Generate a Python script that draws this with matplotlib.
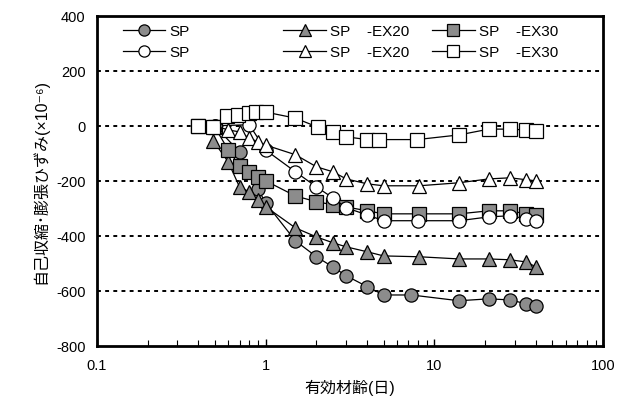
import numpy as np
import matplotlib
matplotlib.use("Agg")
from matplotlib import pyplot as plt
from matplotlib.ticker import LogLocator, NullFormatter, FixedLocator

plt.rcParams['font.family'] = ['Liberation Sans', 'Noto Sans CJK JP', 'DejaVu Sans']

# effective age (days) and strain (x10^-6)
sp_fill_x = [0.5, 0.7, 0.9, 1.0, 1.5, 2, 2.5, 3, 4, 5, 7.3, 14, 21, 28, 35, 40]
sp_fill_y = [0, -95, -230, -280, -418, -476, -513, -545, -585, -615, -615, -636, -629, -633, -647, -655]

sp_open_x = [0.5, 0.8, 1.0, 1.5, 2, 2.5, 3, 4, 5, 8, 14, 21, 28, 35, 40]
sp_open_y = [0, 4, -88, -167, -222, -262, -298, -324, -345, -345, -345, -331, -327, -338, -345]

ex20_fill_x = [0.49, 0.6, 0.7, 0.8, 0.9, 1.0, 1.5, 2, 2.5, 3, 4, 5, 8.1, 14, 21, 28, 35, 40]
ex20_fill_y = [-55, -131, -222, -240, -269, -294, -371, -404, -425, -440, -458, -473, -476, -484, -484, -487, -495, -513]

ex20_open_x = [0.5, 0.6, 0.7, 0.8, 0.9, 1.0, 1.5, 2, 2.5, 3, 4, 5, 8.1, 14, 21, 28, 35, 40]
ex20_open_y = [0, -15, -22, -45, -58, -70, -105, -149, -167, -193, -211, -218, -218, -207, -193, -189, -196, -200]

ex30_fill_x = [0.4, 0.5, 0.6, 0.7, 0.8, 0.9, 1.0, 1.5, 2, 2.5, 3, 4, 5, 8.1, 14, 21, 28, 35, 40]
ex30_fill_y = [0, -5, -87, -145, -167, -185, -200, -255, -276, -287, -295, -309, -320, -320, -320, -309, -309, -320, -324]

ex30_open_x = [0.4, 0.49, 0.59, 0.685, 0.8, 0.88, 1.0, 1.5, 2.04, 2.5, 3, 4, 4.7, 7.9, 14, 21, 28, 35, 40]
ex30_open_y = [0, -5, 36, 40, 45, 50, 50, 28, -5, -22, -40, -50, -50, -50, -33, -12, -12, -15, -20]

labels = ['SP', 'SP', 'SP    -EX20', 'SP    -EX20', 'SP    -EX30', 'SP    -EX30']
ytick_vals = [400, 200, 0, -200, -400, -600, -800]
grid_vals = [200, 0, -200, -400, -600]

gray = '#8c8c8c'
fig = plt.figure(figsize=(6.33, 4.10), dpi=100)
ax = fig.add_axes([0.153, 0.154, 0.80, 0.805])

for g in grid_vals:
    ax.axhline(g, color='black', lw=1.4, ls=(0, (2, 2.2)), zorder=1)

style = dict(color='black', lw=0.9, ms=9.5, mec='black', mew=0.9, zorder=3)
h1, = ax.plot(sp_fill_x, sp_fill_y, marker='o', mfc=gray, **style)
h3, = ax.plot(ex20_fill_x, ex20_fill_y, marker='^', mfc=gray, **style)
h5, = ax.plot(ex30_fill_x, ex30_fill_y, marker='s', mfc=gray, **style)
h2, = ax.plot(sp_open_x, sp_open_y, marker='o', mfc='white', **style)
h4, = ax.plot(ex20_open_x, ex20_open_y, marker='^', mfc='white', **style)
h6, = ax.plot(ex30_open_x, ex30_open_y, marker='s', mfc='white', **style)

ax.set_xscale('log')
ax.set_xlim(0.1, 100)
ax.set_ylim(-800, 400)
ax.xaxis.set_major_locator(FixedLocator([0.1, 1, 10, 100]))
ax.set_xticklabels(['0.1', '1', '10', '100'])
ax.xaxis.set_minor_locator(LogLocator(base=10, subs=np.arange(2, 10)))
ax.xaxis.set_minor_formatter(NullFormatter())
ax.tick_params(axis='x', which='both', direction='in', top=False, labelsize=10.5, pad=9)
ax.tick_params(axis='x', which='major', length=5, width=1)
ax.tick_params(axis='x', which='minor', length=4, width=0.8)
ax.set_yticks(ytick_vals)
ax.set_yticklabels([str(v) for v in ytick_vals])
ax.tick_params(axis='y', length=0, labelsize=10.5, pad=8)
for s in ax.spines.values():
    s.set_linewidth(2)

ax.set_xlabel('有効材齢(日)', fontsize=11.5, labelpad=5)
ax.set_ylabel('自己収縮･膨張ひずみ(×10⁻⁶)', fontsize=11.5, labelpad=6)

groups = [([h1, h2], labels[0:2], 0.051), ([h3, h4], labels[2:4], 0.368), ([h5, h6], labels[4:6], 0.662)]
for i, (hs, ls_, xf) in enumerate(groups):
    leg = ax.legend(hs, ls_, loc='upper left', bbox_to_anchor=(xf, 0.975), frameon=False,
                    borderpad=0, borderaxespad=0, handlelength=2.8, handletextpad=0.25,
                    labelspacing=0.45, fontsize=11, markerscale=0.85)
    if i < len(groups) - 1:
        ax.add_artist(leg)

fig.savefig('out.png', dpi=100)
